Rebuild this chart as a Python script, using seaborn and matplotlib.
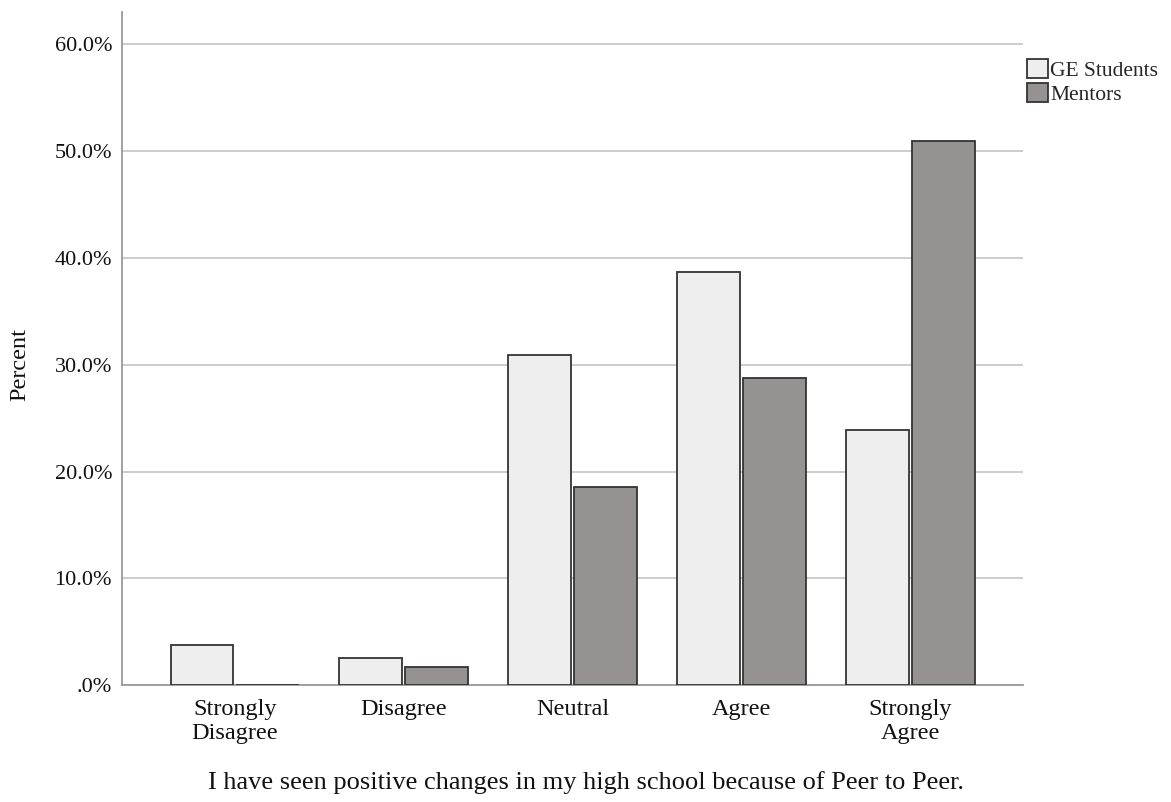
import pandas as pd
import matplotlib.pyplot as plt
import seaborn as sns
from matplotlib.ticker import FuncFormatter

# data
categories = ["Strongly\nDisagree", "Disagree", "Neutral", "Agree", "Strongly\nAgree"]
ge_students = [3.8, 2.6, 30.9, 38.7, 23.9]
mentors = [0.0, 1.7, 18.6, 28.8, 50.9]
groups = ["GE Students", "Mentors"]

df = pd.DataFrame({
    "Response": categories * 2,
    "Percent": ge_students + mentors,
    "Group": [groups[0]] * len(categories) + [groups[1]] * len(categories),
})

sns.set_style("white")
plt.rcParams["font.family"] = ["Liberation Serif", "DejaVu Serif"]

fig = plt.figure(figsize=(11.71, 8.02), dpi=100)
ax = fig.add_axes([0.104, 0.1455, 0.770, 0.8395])

sns.barplot(data=df, x="Response", y="Percent", hue="Group",
            order=categories, hue_order=groups,
            palette=["#eeeeee", "#969291"], width=0.78, gap=0.045,
            edgecolor="#333333", linewidth=1.3, saturation=1,
            ax=ax, zorder=3)

ax.set_xlim(-0.67, 4.67)
ax.set_ylim(0, 63)
ax.set_yticks([0, 10, 20, 30, 40, 50, 60])
ax.yaxis.set_major_formatter(FuncFormatter(lambda v, p: ".0%" if v == 0 else f"{v:.1f}%"))
ax.grid(axis="y", color="#c8c8c8", linewidth=1.3, zorder=0)
ax.set_axisbelow(True)

for s in ["top", "right"]:
    ax.spines[s].set_visible(False)
for s in ["left", "bottom"]:
    ax.spines[s].set_color("#9a9a9a")
    ax.spines[s].set_linewidth(1.3)

ax.tick_params(axis="both", length=0, colors="#111111")
ax.tick_params(axis="y", labelsize=16, pad=7)
ax.tick_params(axis="x", labelsize=17.5, pad=10)
for lbl in ax.get_xticklabels():
    lbl.set_linespacing(1.15)

ax.set_xlabel("")
ax.set_ylabel("")
fig.text(0.5, 0.024, "I have seen positive changes in my high school because of Peer to Peer.",
         ha="center", va="center", fontsize=19, color="#111111")
fig.text(0.017, 0.545, "Percent", rotation=90, ha="center", va="center",
         fontsize=17.5, color="#111111")

handles, labels = ax.get_legend_handles_labels()
ax.legend(handles, labels, loc="upper left", bbox_to_anchor=(0.870, 0.937),
          bbox_transform=fig.transFigure, frameon=False, fontsize=15.5,
          handlelength=0.95, handleheight=0.95, handletextpad=0.12,
          labelspacing=0.12, borderaxespad=0)

fig.savefig("out.png", dpi=100)
